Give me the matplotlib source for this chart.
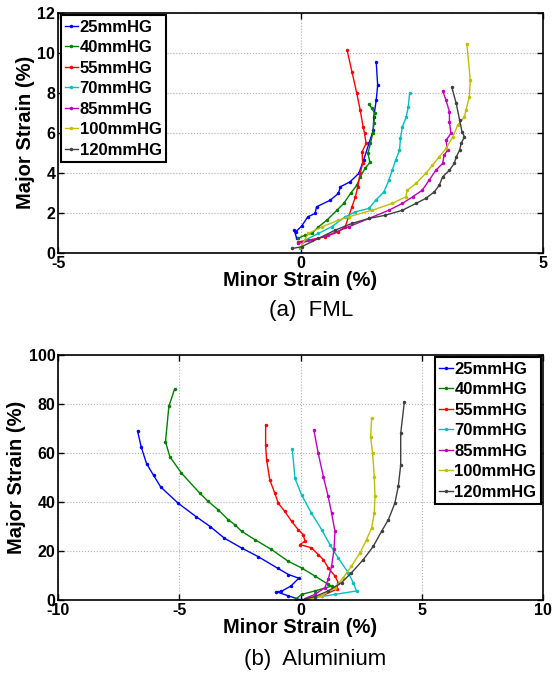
import matplotlib
matplotlib.use("Agg")
import matplotlib.pyplot as plt

plt.rcParams['font.family'] = ['Liberation Sans', 'DejaVu Sans']
plt.rcParams['axes.unicode_minus'] = False

labels = ["25mmHG", "40mmHG", "55mmHG", "70mmHG", "85mmHG", "100mmHG", "120mmHG"]
colors = ["#0000ff", "#008000", "#ff0000", "#00bfbf", "#bf00bf", "#bfbf00", "#404040"]

# (a) FML : minor strain (x), major strain (y), in %
fml_x = [
    [-0.08, -0.13, -0.1, 0.02, 0.15, 0.3, 0.33, 0.61, 0.78, 0.82, 1.02, 1.2, 1.3, 1.41, 1.5, 1.51, 1.56, 1.59, 1.56],
    [-0.06, 0.09, 0.23, 0.37, 0.54, 0.75, 0.89, 1.03, 1.16, 1.23, 1.33, 1.43, 1.39, 1.44, 1.49, 1.51, 1.53, 1.47, 1.42],
    [-0.05, 0.16, 0.5, 0.78, 0.92, 0.99, 1.06, 1.13, 1.18, 1.23, 1.28, 1.27, 1.35, 1.32, 1.29, 1.23, 1.16, 1.06, 0.96],
    [-0.01, 0.09, 0.37, 0.64, 0.92, 1.13, 1.41, 1.55, 1.72, 1.82, 1.89, 1.96, 2.04, 2.06, 2.1, 2.18, 2.22, 2.25],
    [-0.05, 0.23, 0.57, 0.99, 1.41, 1.82, 2.1, 2.31, 2.51, 2.65, 2.79, 2.93, 2.96, 3.03, 3.0, 3.1, 3.07, 3.07, 3.0, 2.93],
    [0.01, 0.16, 0.44, 0.78, 0.99, 1.48, 1.89, 2.17, 2.2, 2.38, 2.58, 2.72, 2.86, 3.0, 3.14, 3.24, 3.38, 3.41, 3.48, 3.5, 3.43],
    [-0.17, 0.02, 0.37, 0.71, 1.06, 1.41, 1.75, 2.1, 2.38, 2.58, 2.76, 2.86, 2.93, 3.07, 3.17, 3.21, 3.28, 3.31, 3.38, 3.33, 3.28, 3.21, 3.12],
]
fml_y = [
    [0.72, 1.13, 1.05, 1.33, 1.8, 1.97, 2.3, 2.63, 2.97, 3.3, 3.55, 3.97, 4.63, 5.47, 6.13, 6.8, 7.63, 8.38, 9.55],
    [0.72, 0.88, 0.97, 1.3, 1.63, 2.13, 2.47, 2.97, 3.38, 3.8, 4.22, 4.52, 4.97, 5.47, 5.97, 6.47, 6.97, 7.22, 7.42],
    [0.55, 0.63, 0.8, 1.05, 1.3, 1.8, 2.3, 2.8, 3.3, 3.97, 4.47, 5.05, 5.47, 5.97, 6.3, 7.13, 7.97, 9.05, 10.13],
    [0.22, 0.63, 0.97, 1.3, 1.8, 2.05, 2.22, 2.63, 3.05, 3.63, 4.13, 4.63, 5.13, 5.72, 6.3, 6.8, 7.3, 8.0],
    [0.47, 0.63, 0.88, 1.3, 1.72, 2.13, 2.47, 2.8, 3.13, 3.63, 4.13, 4.47, 4.88, 5.13, 5.63, 5.97, 6.55, 7.05, 7.63, 8.1],
    [0.3, 0.97, 1.3, 1.63, 1.8, 2.13, 2.47, 2.8, 3.13, 3.47, 3.97, 4.38, 4.8, 5.22, 5.8, 6.38, 6.8, 7.13, 7.8, 8.63, 10.43],
    [0.22, 0.3, 0.72, 1.13, 1.47, 1.72, 1.88, 2.13, 2.47, 2.72, 3.05, 3.38, 3.8, 4.13, 4.47, 4.8, 5.13, 5.47, 5.8, 6.05, 6.63, 7.47, 8.27],
]

# (b) Aluminium
al_x = [
    [0.0, -0.5, -1.0, -0.8, -0.4, -0.07, -0.5, -0.95, -1.75, -2.41, -3.14, -3.72, -4.31, -5.04, -5.77, -6.06, -6.35, -6.57, -6.72],
    [-0.17, 0.04, 0.59, 1.28, 1.14, 0.59, 0.04, -0.51, -1.2, -1.88, -2.43, -2.71, -2.98, -3.4, -3.81, -4.15, -4.91, -5.39, -5.57, -5.43, -5.19],
    [0.32, 0.87, 1.49, 1.55, 1.42, 1.14, 0.94, 0.73, 0.45, -0.03, 0.18, 0.11, -0.1, -0.37, -0.65, -0.92, -1.06, -1.27, -1.4, -1.44, -1.44],
    [0.04, 0.59, 1.42, 2.31, 2.17, 1.97, 1.55, 1.21, 0.87, 0.45, 0.04, -0.23, -0.34],
    [0.18, 0.59, 1.0, 1.14, 1.28, 1.38, 1.42, 1.28, 1.14, 0.94, 0.73, 0.55],
    [0.32, 0.87, 1.42, 1.76, 2.1, 2.45, 2.72, 2.93, 3.04, 3.07, 3.04, 2.97, 2.89, 2.93],
    [0.04, 0.59, 1.14, 1.69, 2.1, 2.59, 3.0, 3.34, 3.62, 3.89, 4.03, 4.13, 4.13, 4.28],
]
al_y = [
    [0.2, 1.8, 3.5, 3.6, 5.8, 9.0, 10.5, 13.1, 17.8, 21.2, 25.3, 30.0, 34.1, 39.5, 46.2, 50.9, 55.7, 62.4, 68.9],
    [0.7, 2.4, 3.8, 5.8, 6.5, 9.9, 13.2, 15.9, 20.7, 24.7, 28.1, 30.8, 32.8, 36.9, 40.3, 43.6, 51.8, 58.5, 64.6, 79.1, 86.2],
    [1.1, 1.8, 4.5, 7.2, 9.9, 13.2, 16.6, 18.6, 21.4, 22.7, 24.1, 26.8, 28.8, 32.2, 36.2, 39.6, 43.6, 49.1, 57.2, 63.2, 71.4],
    [0.1, 1.1, 2.4, 3.8, 7.2, 11.2, 17.3, 22.7, 28.8, 35.5, 43.0, 49.7, 61.5],
    [0.7, 2.4, 5.1, 8.5, 13.9, 20.7, 28.1, 35.5, 42.3, 50.4, 59.9, 69.3],
    [0.4, 1.8, 5.1, 9.2, 13.9, 19.3, 24.7, 29.5, 35.5, 42.3, 50.4, 59.9, 66.6, 74.1],
    [0.1, 1.5, 3.8, 7.2, 11.2, 16.6, 22.0, 28.1, 32.8, 39.6, 46.4, 55.1, 68.0, 80.8],
]


def style_axes(ax):
    ax.grid(True, linestyle=':', color='#b0b0b0', linewidth=0.8)
    ax.tick_params(direction='in', top=True, right=True, length=4, width=1,
                   labelsize=11.5, pad=2)
    for lab in ax.get_xticklabels() + ax.get_yticklabels():
        lab.set_fontweight('bold')
    for s in ax.spines.values():
        s.set_linewidth(1.2)
    ax.set_xlabel("Minor Strain (%)", fontsize=14.5, fontweight='bold', labelpad=0)
    ax.set_ylabel("Major Strain (%)", fontsize=14.5, fontweight='bold', labelpad=2)


def add_legend(ax, loc):
    leg = ax.legend(loc=loc, prop={'weight': 'bold', 'size': 12},
                    handlelength=0.8, handletextpad=0.1, labelspacing=0.33,
                    borderaxespad=0.15, borderpad=0.25, fancybox=False, framealpha=1)
    leg.get_frame().set_edgecolor('black')
    leg.get_frame().set_linewidth(1.5)


fig = plt.figure(figsize=(5.53, 6.76), dpi=100)

ax1 = fig.add_axes([0.105, 0.626, 0.877, 0.355])
for xs, ys, c, l in zip(fml_x, fml_y, colors, labels):
    ax1.plot(xs, ys, color=c, marker='.', markersize=3, linewidth=1, label=l)
ax1.set_xlim(-5, 5)
ax1.set_ylim(0, 12)
ax1.set_xticks([-5, 0, 5])
ax1.set_yticks([0, 2, 4, 6, 8, 10, 12])
style_axes(ax1)
add_legend(ax1, 'upper left')

ax2 = fig.add_axes([0.105, 0.112, 0.877, 0.363])
for xs, ys, c, l in zip(al_x, al_y, colors, labels):
    ax2.plot(xs, ys, color=c, marker='.', markersize=3, linewidth=1, label=l)
ax2.set_xlim(-10, 10)
ax2.set_ylim(0, 100)
ax2.set_xticks([-10, -5, 0, 5, 10])
ax2.set_yticks([0, 20, 40, 60, 80, 100])
style_axes(ax2)
add_legend(ax2, 'upper right')

fig.text(0.562, 0.54, "(a)  FML", ha='center', va='center', fontsize=16)
fig.text(0.57, 0.024, "(b)  Aluminium", ha='center', va='center', fontsize=16)

fig.savefig("out.png", dpi=100)
